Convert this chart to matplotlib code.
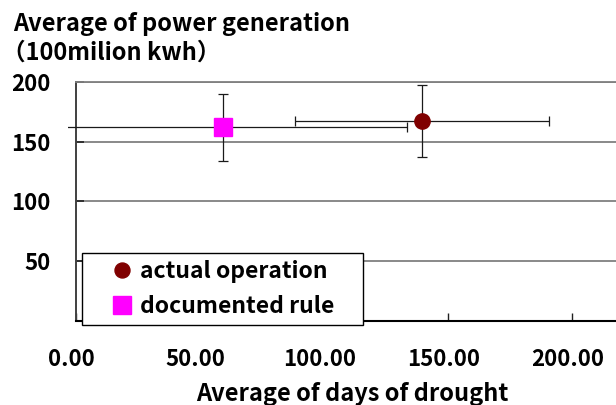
import matplotlib
matplotlib.use("Agg")
import matplotlib.pyplot as plt
from matplotlib.lines import Line2D
from matplotlib.patches import Rectangle
from matplotlib.legend_handler import HandlerLine2D
import matplotlib.transforms as mtransforms

plt.rcParams['font.family'] = ['Noto Sans CJK JP', 'DejaVu Sans']
plt.rcParams['font.weight'] = 'bold'

# ---- data ----
series = ['actual operation', 'documented rule']
x_mean = [139.6, 59.4]       # average days of drought
y_mean = [167.5, 161.9]      # average power generation (100 million kWh)
x_err = [51.0, 74.0]
y_err = [30.4, 28.4]
x_ticks = [0, 50, 100, 150, 200, 250]
x_tick_labels = ['0.00', '50.00', '100.00', '150.00', '200.00', '']
y_ticks = [0, 50, 100, 150, 200]
y_tick_labels = ['', '50', '100', '150', '200']
title_lines = ['Average of power generation', '（100milion kwh）']
x_title = 'Average of days of drought'

colors = ['#800000', '#FF00FF']
markers = ['o', 's']
msizes = [11, 13.5]

W, H = 616, 405
fig = plt.figure(figsize=(W / 100, H / 100), dpi=100)
L, R, T, B = 75.5, 696.0, 82.0, 320.5
ax = fig.add_axes([L / W, 1 - B / H, (R - L) / W, (B - T) / H])
ax.set_xlim(0, 250)
ax.set_ylim(0, 200)

ax.set_yticks(y_ticks)
ax.set_yticklabels(y_tick_labels)
ax.set_xticks(x_ticks)
ax.set_xticklabels(x_tick_labels)

ax.yaxis.grid(True, color='#808080', lw=1.3)
ax.set_axisbelow(True)
ax.spines['right'].set_visible(False)
ax.spines['top'].set_color('#808080')
ax.spines['top'].set_linewidth(1.3)
ax.spines['left'].set_color('#404040')
ax.spines['left'].set_linewidth(1.4)
ax.spines['bottom'].set_color('black')
ax.spines['bottom'].set_linewidth(1.5)

ax.tick_params(axis='x', direction='in', length=6, width=1, color='#202020',
               pad=20, labelsize=16)
ax.tick_params(axis='y', direction='in', length=6, width=1.2, color='#202020',
               pad=18, labelsize=16)
shift = mtransforms.ScaledTranslation(-4 / 100, 0, fig.dpi_scale_trans)
for lab in ax.get_xticklabels():
    lab.set_transform(lab.get_transform() + shift)

clip_rect = Rectangle((-8 / (R - L), 0), 1.1, 1, transform=ax.transAxes,
                      facecolor='none', edgecolor='none')

for i in range(len(series)):
    cont = ax.errorbar(x_mean[i], y_mean[i], xerr=x_err[i], yerr=y_err[i],
                       fmt=markers[i], color=colors[i], ms=msizes[i],
                       ecolor='#1a1a1a', elinewidth=0.9, capsize=3.3,
                       capthick=0.9, zorder=3)
    data_line, caplines, barcols = cont.lines
    for a in list(caplines) + list(barcols):
        a.set_clip_path(clip_rect)


class ShiftedMarker(HandlerLine2D):
    def get_xdata(self, legend, xdescent, ydescent, width, height, fontsize):
        m = -xdescent + 0.72 * width
        return [m - 1, m + 1], [m]


handles = [Line2D([], [], marker=markers[i], color=colors[i], ls='none',
                  ms=msizes[i] * 0.98) for i in range(len(series))]
leg = fig.legend(handles, series, loc='upper left',
                 bbox_to_anchor=(82.3 / W, 1 - 253.3 / H, (362.7 - 82.3) / W, 0),
                 bbox_transform=fig.transFigure, mode='expand',
                 borderaxespad=0, borderpad=0.3, labelspacing=0.5,
                 handlelength=2.0, handletextpad=0.2, fontsize=16.5,
                 fancybox=False, framealpha=1, edgecolor='black',
                 handler_map={Line2D: ShiftedMarker()})
leg.get_frame().set_linewidth(1.0)

fig.text(12.7 / W, 1 - 30.7 / H, title_lines[0], fontsize=17,
         ha='left', va='baseline')
fig.text(2.5 / W, 1 - 60.0 / H, title_lines[1], fontsize=17,
         ha='left', va='baseline')
fig.text(352 / W, 1 - 400.5 / H, x_title, fontsize=17,
         ha='center', va='baseline')

fig.savefig('out.png', dpi=100)
